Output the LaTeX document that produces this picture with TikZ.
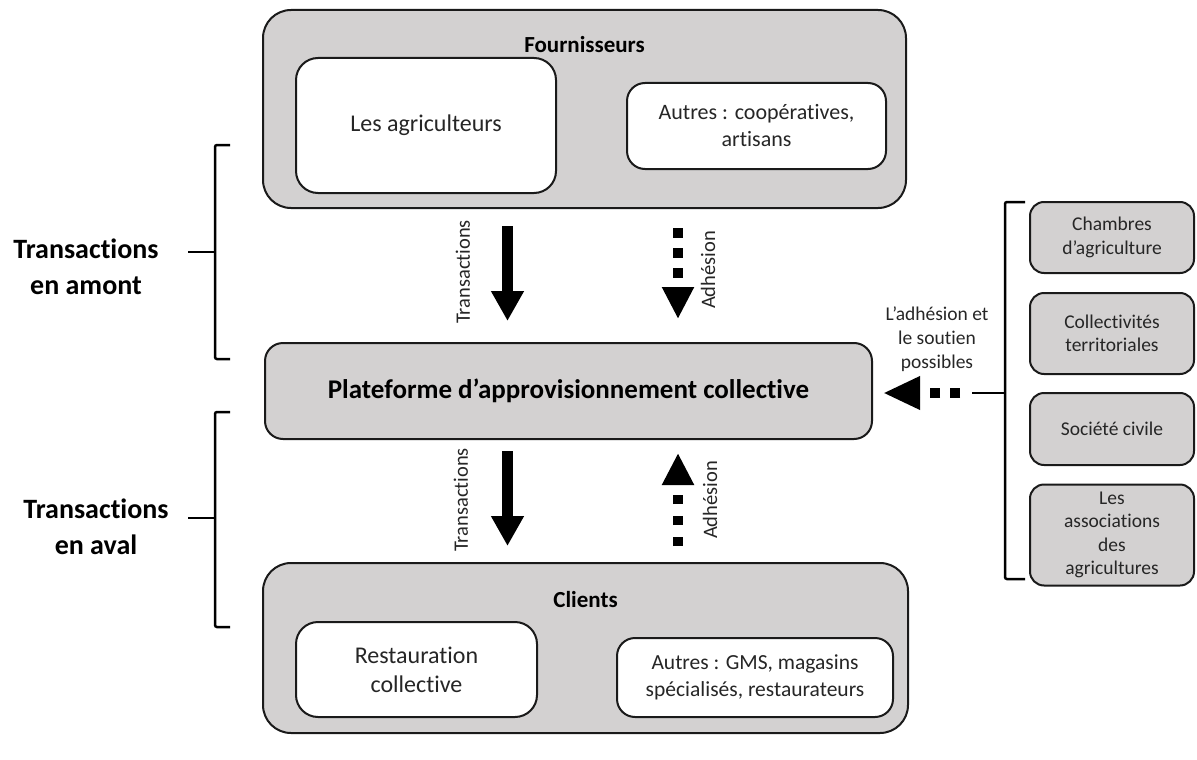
\documentclass[tikz,border=0pt]{standalone}
\usepackage{fontspec}
\setmainfont{Carlito}[Ligatures=NoCommon]
\usetikzlibrary{arrows.meta,calc}
\definecolor{boxgray}{HTML}{D3D1D1}
\definecolor{txt}{HTML}{262626}
\definecolor{edge}{HTML}{1A1A1A}
\begin{document}
\begin{tikzpicture}[x=1pt,y=-1pt,
  outerbox/.style={draw=edge, line width=2pt, fill=boxgray, rounded corners=28pt, inner sep=0pt},
  whitebox/.style={draw=edge, line width=2pt, fill=white, rounded corners=22pt, align=center, text=txt, inner sep=0pt},
  sidebox/.style={draw=edge, line width=2pt, fill=boxgray, rounded corners=14pt, align=center, text=txt, inner sep=0pt,
    minimum width=164pt, font=\fontsize{19.5}{23.5}\selectfont},
  titlelab/.style={font=\fontsize{23}{27}\selectfont\bfseries, text=black},
  sidelab/.style={font=\fontsize{28}{36}\selectfont\bfseries, align=center, text=black},
  rotlab/.style={rotate=90, font=\fontsize{20.5}{24}\selectfont, text=txt},
  solidarrow/.style={draw=black, line width=11pt, -{Triangle[length=30pt,width=31pt]}},
  dasharrow/.style={draw=black, line width=10pt, dash pattern=on 10pt off 10pt, -{Triangle[length=32pt,width=30pt]}},
  bracepath/.style={draw=black, line width=2.5pt, rounded corners=2pt}
]
\useasboundingbox (0,0) rectangle (1197,760);

% Fournisseurs
\node[outerbox, minimum width=643pt, minimum height=198pt] (fourn) at (584.5,109) {};
\node[titlelab] (fourntitle) at (584.5,45) {Fournisseurs};
\node[whitebox, minimum width=260pt, minimum height=135pt, font=\fontsize{24}{28}\selectfont] (agri) at (426,125.5) {Les agriculteurs};
\node[whitebox, rounded corners=18pt, minimum width=259pt, minimum height=86pt, font=\fontsize{22}{27}\selectfont] (autres1) at (756.5,126) {Autres : coopératives,\\artisans};

% Plateforme
\node[outerbox, rounded corners=18pt, minimum width=607pt, minimum height=96pt,
  font=\fontsize{27}{32}\selectfont\bfseries] (plat) at (568.5,391) {Plateforme d’approvisionnement collective};

% Clients
\node[outerbox, minimum width=645pt, minimum height=170pt] (clients) at (585.5,648) {};
\node[titlelab] (clientstitle) at (585.5,600) {Clients};
\node[whitebox, minimum width=241pt, minimum height=95pt, font=\fontsize{24}{29}\selectfont] (resto) at (416.5,669.5) {Restauration\\collective};
\node[whitebox, rounded corners=18pt, minimum width=276pt, minimum height=79pt, font=\fontsize{21.5}{26.5}\selectfont] (autres2) at (755,677.5) {Autres : GMS, magasins\\spécialisés, restaurateurs};

% Side boxes
\node[sidebox, minimum height=71pt] (chambres) at (1112,237.5) {Chambres\\d’agriculture};
\node[sidebox, minimum height=81pt] (collect) at (1112,333.5) {Collectivités\\territoriales};
\node[sidebox, minimum height=72pt] (societe) at (1112,429) {Société civile};
\node[sidebox, minimum height=101pt] (assoc) at (1112,535) {Les\\associations\\des\\agricultures};

% Arrows between Fournisseurs and Plateforme
\coordinate (tx) at (507.5,0);
\coordinate (ax) at (678,0);
\draw[solidarrow, shorten <=17pt, shorten >=21pt] (fourn.south -| tx) -- (plat.north -| tx);
\draw[dasharrow, shorten <=19pt, shorten >=23pt] (fourn.south -| ax) -- (plat.north -| ax);
\node[rotlab] (tlab1) at (463,272) {Transactions};
\node[rotlab] (alab1) at (708,270) {Adhésion};

% Arrows between Plateforme and Clients
\draw[solidarrow, shorten <=11pt, shorten >=16pt] (plat.south -| tx) -- (clients.north -| tx);
\draw[dasharrow, dash pattern=on 9pt off 12pt, shorten <=16pt, shorten >=13pt] (clients.north -| ax) -- (plat.south -| ax);
\node[rotlab] (tlab2) at (461,500) {Transactions};
\node[rotlab] (alab2) at (710,500) {Adhésion};

% Right brace and arrow
\coordinate (rtick) at (972,393);
\draw[bracepath] (1025,202) -- (1005,202) -- (1005,579) -- (1025,579);
\draw[bracepath] (1005,393) -- (rtick);
\draw[dasharrow, -{Triangle[length=37pt,width=31pt]}, shorten <=12pt, shorten >=10pt] (rtick) -- (plat.east |- rtick);
\node[font=\fontsize{19.5}{24}\selectfont, align=center, text=txt] (soutien) at (937,339) {L’adhésion et\\le soutien\\possibles};

% Left braces
\draw[bracepath] (230,145) -- (215,145) -- (215,359) -- (230,359);
\draw[bracepath] (215,252) -- (188,252);
\node[sidelab] (amont) at (86,267) {Transactions\\en amont};
\draw[bracepath] (230,412) -- (215,412) -- (215,627) -- (230,627);
\draw[bracepath] (215,518) -- (188,518);
\node[sidelab] (aval) at (96,527) {Transactions\\en aval};
\end{tikzpicture}
\end{document}
